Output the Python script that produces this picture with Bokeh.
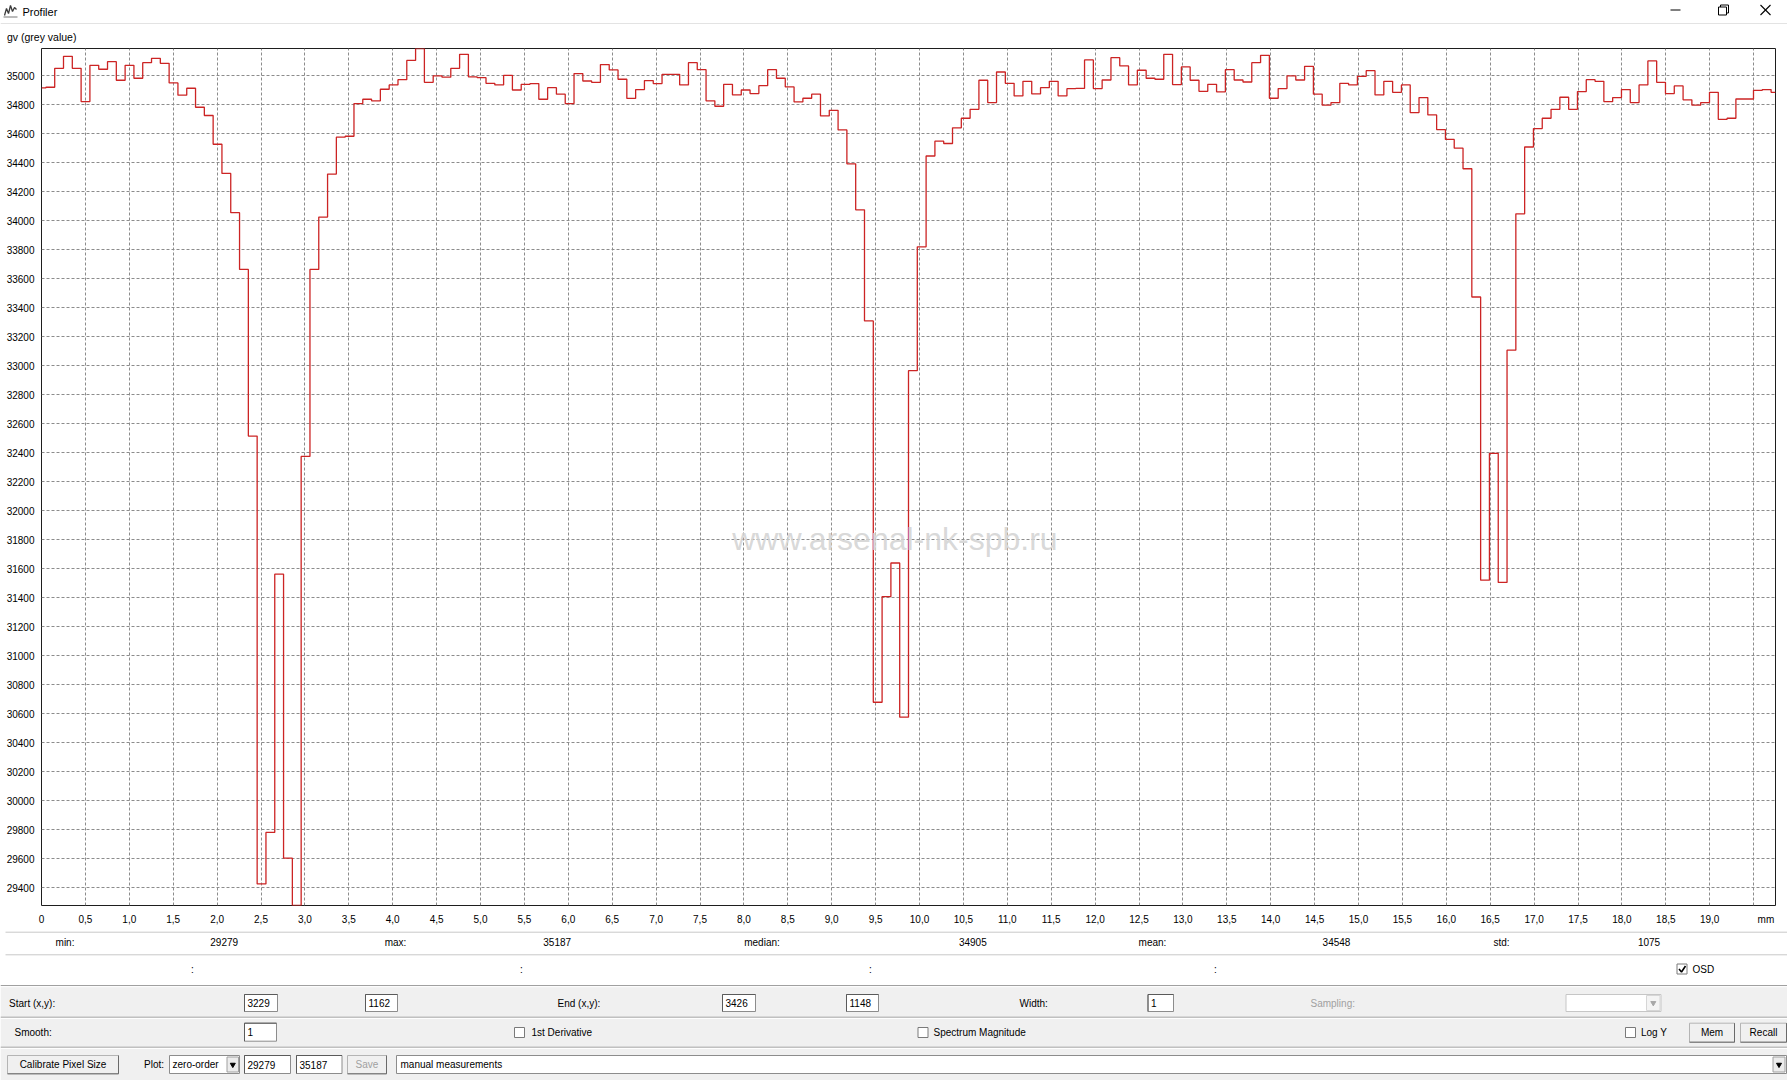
import numpy as np
from bokeh.plotting import figure
from bokeh.models import Range1d, FixedTicker, Label
from bokeh.layouts import column
from bokeh.embed import file_html
from bokeh.resources import INLINE
from bokeh.core.properties import value

# ---------------- data ----------------
gv_values = [
    34915, 34920, 35050, 35133, 35050, 34821, 35071, 35044, 35096, 34968,
    35071, 34982, 35089, 35119, 35085, 34950, 34865, 34913, 34782, 34725,
    34527, 34326, 34055, 33664, 32515, 29428, 29783, 31563, 29605, 29279,
    32375, 33664, 34025, 34321, 34576, 34582, 34807, 34837, 34826, 34906,
    34936, 34972, 35105, 35187, 34954, 34998, 34989, 35050, 35147, 34991,
    34986, 34947, 34936, 35002, 34901, 34940, 34945, 34837, 34917, 34872,
    34807, 35014, 34963, 34954, 35076, 35039, 34975, 34843, 34904, 34966,
    34945, 35009, 35009, 34936, 35089, 35041, 34826, 34789, 34940, 34867,
    34901, 34876, 34931, 35041, 34982, 34922, 34819, 34844, 34872, 34722,
    34761, 34626, 34392, 34075, 33309, 30680, 31409, 31640, 30577, 32966,
    33820, 34446, 34548, 34532, 34640, 34706, 34768, 34968, 34814, 35025,
    34947, 34860, 34961, 34874, 34917, 34961, 34860, 34910, 34912, 35108,
    34911, 34970, 35124, 35067, 34936, 35037, 34982, 34975, 35147, 34938,
    35060, 34968, 34892, 34940, 34888, 35041, 34970, 34956, 35089, 35140,
    34844, 34911, 34998, 34970, 35064, 34872, 34796, 34814, 34947, 34936,
    34995, 35034, 34867, 34961, 34885, 34936, 34745, 34849, 34729, 34628,
    34560, 34500, 34358, 33474, 31522, 32396, 31506, 33107, 34047, 34508,
    34635, 34706, 34768, 34851, 34768, 34890, 34972, 34961, 34821, 34849,
    34904, 34814, 34936, 35101, 34954, 34876, 34929, 34833, 34796, 34814,
    34885, 34699, 34706, 34839, 34839, 34899, 34904, 34885,
]
PIXEL_MM = 0.10025          # sample spacing along the profile (mm)
y_min, y_max = 29279, 35187

x_tick_labels = ["0", "0,5", "1,0", "1,5", "2,0", "2,5", "3,0", "3,5", "4,0", "4,5",
                 "5,0", "5,5", "6,0", "6,5", "7,0", "7,5", "8,0", "8,5", "9,0", "9,5",
                 "10,0", "10,5", "11,0", "11,5", "12,0", "12,5", "13,0", "13,5", "14,0", "14,5",
                 "15,0", "15,5", "16,0", "16,5", "17,0", "17,5", "18,0", "18,5", "19,0", "mm"]
x_tick_values = [i * 0.5 for i in range(39)] + [19.64]
x_grid_values = [i * 0.5 for i in range(1, 40)]
y_tick_values = list(range(29400, 35001, 200))
y_tick_labels = [str(v) for v in y_tick_values]

stats_names = ["min:", "max:", "median:", "mean:", "std:"]
stats_values = ["29279", "35187", "34905", "34548", "1075"]

# ---------------- geometry (window pixels) ----------------
W = 1787
H = 1080
TOP_H = 46
MAIN_H = 883
BOT_H = H - TOP_H - MAIN_H       # 151
FONT = "Liberation Sans"

x_mm = np.arange(len(gv_values)) * PIXEL_MM


def chrome_fig(h):
    f = figure(width=W, height=h, x_range=Range1d(0, W), y_range=Range1d(h, 0),
               min_border=0, toolbar_location=None, output_backend="svg",
               x_axis_type=None, y_axis_type=None, frame_align=False)
    f.outline_line_color = None
    f.background_fill_color = "white"
    f.border_fill_color = "white"
    return f


# ---------------- title bar ----------------
t = chrome_fig(TOP_H)
t.line([4, 6, 8, 10, 12, 14, 16], [15, 8, 13, 5, 11, 7, 9], line_color="#3a3a3a", line_width=1.3)
t.line([3, 17], [16.5, 16.5], line_color="#777777", line_width=1)
t.text([22], [11], text=["Profiler"], text_font=value(FONT), text_font_size="11px",
       text_baseline="middle", text_color="#000000")
t.line([0, W], [23, 23], line_color="#e3e3e3", line_width=1)
t.text([6.5], [36], text=["gv (grey value)"], text_font=value(FONT),
       text_font_size="10.5px", text_baseline="middle", text_color="#000000")
# window buttons
t.line([1670, 1680], [9.5, 9.5], line_color="#000000", line_width=1)
t.quad(left=[1718], right=[1726], top=[6.5], bottom=[14.5],
       fill_color="white", line_color="#000000", line_width=1)
t.line([1720, 1720, 1728, 1728, 1726], [6.5, 4.5, 4.5, 12.5, 12.5], line_color="#000000", line_width=1)
t.segment(x0=[1760, 1760], y0=[4.5, 14.5], x1=[1770, 1770], y1=[14.5, 4.5],
          line_color="#000000", line_width=1.1)

# ---------------- main plot ----------------
p = figure(width=W, height=MAIN_H, x_range=Range1d(0, float(x_mm[-1])),
           y_range=Range1d(y_min, y_max), output_backend="svg", toolbar_location=None,
           min_border_left=41, min_border_right=12, min_border_top=2, min_border_bottom=24,
           frame_align=False)
p.background_fill_color = "white"
p.border_fill_color = "white"
p.outline_line_color = "#1e1e1e"
p.outline_line_width = 1

p.xaxis.ticker = FixedTicker(ticks=x_tick_values)
p.xaxis.major_label_overrides = {v: l for v, l in zip(x_tick_values, x_tick_labels)}
p.yaxis.ticker = FixedTicker(ticks=y_tick_values)
p.yaxis.major_label_overrides = {v: l for v, l in zip(y_tick_values, y_tick_labels)}
for ax in (p.xaxis, p.yaxis):
    ax.axis_line_color = None
    ax.major_tick_line_color = None
    ax.minor_tick_line_color = None
    ax.major_tick_out = 0
    ax.major_tick_in = 0
    ax.minor_tick_out = 0
    ax.minor_tick_in = 0
    ax.major_label_text_font = FONT
    ax.major_label_text_color = "#000000"
    ax.major_label_text_font_size = "10px"
p.xaxis.major_label_standoff = 8
p.yaxis.major_label_standoff = 7

p.xgrid.ticker = FixedTicker(ticks=x_grid_values)
p.ygrid.ticker = FixedTicker(ticks=y_tick_values)
p.grid.grid_line_color = "#8c8c8c"
p.grid.grid_line_dash = "3 2"
p.grid.grid_line_width = 1

p.add_layout(Label(x=9.72, y=31805, text="www.arsenal-nk-spb.ru", text_align="center",
                   text_baseline="middle", text_font=FONT, text_font_size="32px",
                   text_color="#d4d4d4", text_alpha=0.9))

p.step(x_mm, gv_values, mode="center", line_color="#cc2424", line_width=1.3)

# ---------------- bottom panel ----------------
B_TOP = TOP_H + MAIN_H
b = chrome_fig(BOT_H)


def by(ry):
    return ry - B_TOP


def hline(ry, color, x0=0, x1=W):
    b.line([x0, x1], [by(ry), by(ry)], line_color=color, line_width=1)


def txt(rx, ry, s, color="#000000", align="left", size="10px"):
    b.text([rx], [by(ry)], text=[s], text_font=value(FONT), text_font_size=size,
           text_baseline="middle", text_align=align, text_color=color)


def box(x0, x1, y0, y1, fill="white", line="#8c8c8c"):
    b.quad(left=[x0], right=[x1], top=[by(y0)], bottom=[by(y1)],
           fill_color=fill, line_color=line, line_width=1)


def textbox(x0, x1, y0, y1, s):
    box(x0, x1, y0, y1, "white", "#8c8c8c")
    b.line([x0, x0, x1], [by(y1), by(y0), by(y0)], line_color="#5a5a5a", line_width=1)
    txt(x0 + 3, (y0 + y1) / 2, s)


def button(x0, x1, y0, y1, s, color="#000000"):
    box(x0, x1, y0, y1, "#f0f0f0", "#b4b4b4")
    b.line([x0, x1, x1], [by(y1), by(y1), by(y0)], line_color="#6a6a6a", line_width=1)
    txt((x0 + x1) / 2, (y0 + y1) / 2, s, color=color, align="center")


def checkbox(x0, yc, checked=False):
    box(x0, x0 + 10, yc - 5, yc + 5, "white", "#7a7a7a")
    if checked:
        b.line([x0 + 2, x0 + 4.5, x0 + 8.5], [by(yc), by(yc + 3), by(yc - 3)],
               line_color="#000000", line_width=1.6)


def arrow(xc, yc, color="#000000"):
    b.scatter([xc], [by(yc)], marker="inverted_triangle", size=5,
              fill_color=color, line_color=color)


# white upper part separators
hline(931.7, "#c8c8c8", 5)
hline(954.3, "#c8c8c8", 5)

# stats row
stat_name_x = [64.5, 395, 761.5, 1152, 1501]
stat_val_x = [223.7, 556.7, 972.3, 1336, 1648.5]
for nx, vx, n, v in zip(stat_name_x, stat_val_x, stats_names, stats_values):
    txt(nx, 941.7, n, align="center")
    txt(vx, 941.7, v, align="center")

# colon row + OSD
for cx in [192, 521, 870, 1215]:
    txt(cx, 969, ":", align="center")
checkbox(1676.5, 968.5, checked=True)
txt(1692, 968.5, "OSD")

# grey control panel
b.quad(left=[0], right=[W], top=[by(985)], bottom=[BOT_H], fill_color="#f0f0f0", line_color=None)
hline(985, "#a0a0a0")
hline(986.2, "#ffffff")
hline(1016.7, "#a0a0a0")
hline(1017.9, "#ffffff")
hline(1046.7, "#a0a0a0")
hline(1047.9, "#ffffff")

# row 1
r1 = 1002.5
txt(8.6, r1, "Start (x,y):")
textbox(244, 277, 994, 1011, "3229")
textbox(365, 397, 994, 1011, "1162")
txt(557, r1, "End (x,y):")
textbox(722, 755, 994, 1011, "3426")
textbox(846, 878, 994, 1011, "1148")
txt(1019, r1, "Width:")
textbox(1147.5, 1173, 994, 1011, "1")
txt(1310, r1, "Sampling:", color="#a0a0a0")
box(1565.5, 1660.5, 994, 1011, "white", "#c6c6c6")
box(1646, 1659.5, 995, 1010, "#f4f4f4", "#d6d6d6")
arrow(1652.8, 1002.5, color="#a8a8a8")

# row 2
r2 = 1032
txt(14, r2, "Smooth:")
textbox(244, 276, 1022.7, 1040.7, "1")
checkbox(514, r2)
txt(531, r2, "1st Derivative")
checkbox(917.5, r2)
txt(933, r2, "Spectrum Magnitude")
checkbox(1625, r2)
txt(1640.5, r2, "Log Y")
button(1689, 1734, 1022.7, 1041.7, "Mem")
button(1740, 1786, 1022.7, 1041.7, "Recall")

# row 3
r3 = 1064.2
button(7, 118, 1055, 1073.3, "Calibrate Pixel Size")
txt(143.5, r3, "Plot:")
box(169, 239, 1055, 1073, "white", "#8c8c8c")
txt(172, r3, "zero-order")
box(226.5, 238, 1056.5, 1071.5, "#ececec", "#a0a0a0")
arrow(232.3, r3)
textbox(244, 290, 1055, 1073, "29279")
textbox(296, 341.5, 1055, 1073, "35187")
button(347, 386, 1055, 1073.3, "Save", color="#a0a0a0")
box(396, 1786, 1055, 1073, "white", "#8c8c8c")
txt(400, r3, "manual measurements")
box(1772.5, 1784.5, 1056.5, 1071.5, "#ececec", "#a0a0a0")
arrow(1778.5, r3)

layout = column(t, p, b)
open("out.html", "w").write(file_html(layout, INLINE))
